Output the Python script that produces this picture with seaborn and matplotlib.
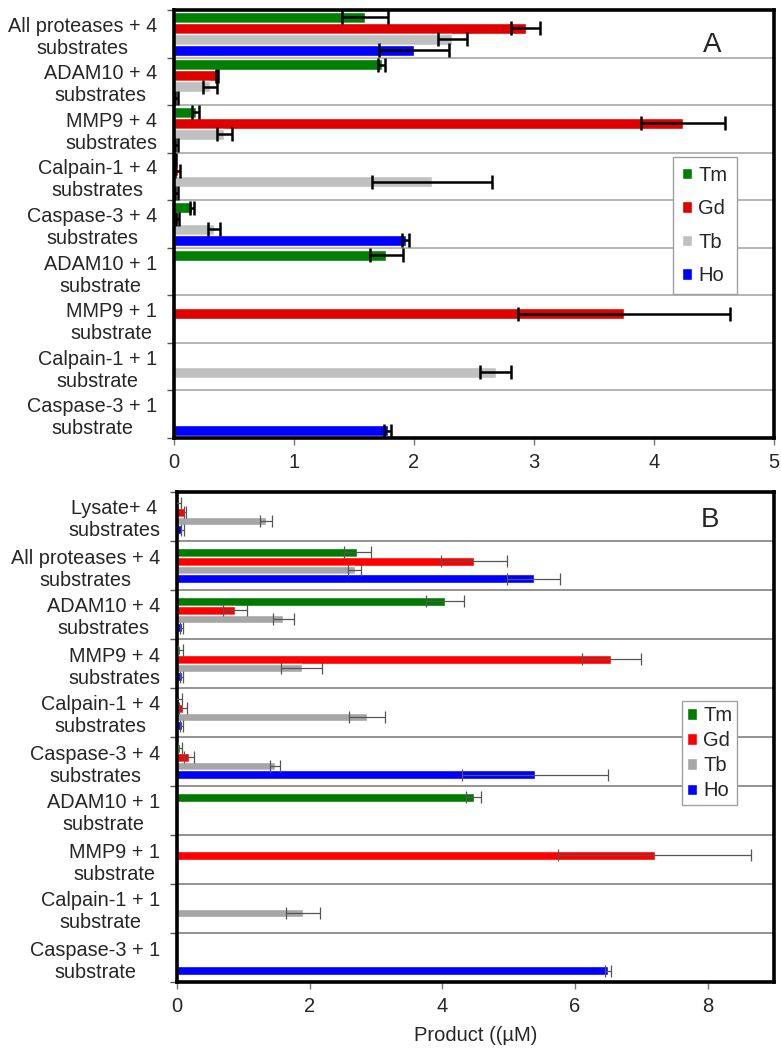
import numpy as np
import pandas as pd
import matplotlib
matplotlib.use("Agg")
import matplotlib.pyplot as plt
import matplotlib.ticker as mticker
import seaborn as sns

#================================ data ================================
nan = np.nan
elements = ["Tm", "Gd", "Tb", "Ho"]

conds_a = ["All proteases + 4\nsubstrates", "ADAM10 + 4\nsubstrates", "MMP9 + 4\nsubstrates",
           "Calpain-1 + 4\nsubstrates", "Caspase-3 + 4\nsubstrates", "ADAM10 + 1\nsubstrate",
           "MMP9 + 1\nsubstrate", "Calpain-1 + 1\nsubstrate", "Caspase-3 + 1\nsubstrate"]
tm_a = [1.59, 1.73, 0.18, 0.01, 0.15, 1.77, 0, 0, 0]
tm_a_err = [0.19, 0.03, 0.03, 0.01, 0.02, 0.14, nan, nan, nan]
gd_a = [2.93, 0.36, 4.24, 0.03, 0.03, 0, 3.75, 0, 0]
gd_a_err = [0.12, 0.01, 0.35, 0.02, 0.01, nan, 0.88, nan, nan]
tb_a = [2.32, 0.30, 0.42, 2.15, 0.33, 0, 0, 2.68, 0]
tb_a_err = [0.12, 0.06, 0.06, 0.50, 0.05, nan, nan, 0.13, nan]
ho_a = [2.00, 0.02, 0.02, 0.02, 1.93, 0, 0, 0, 1.78]
ho_a_err = [0.29, 0.01, 0.01, 0.01, 0.03, nan, nan, nan, 0.03]

conds_b = ["Lysate+ 4\nsubstrates"] + conds_a
tm_b = [0.02, 2.72, 4.04, 0.05, 0.03, 0.04, 4.47, 0, 0, 0]
tm_b_err = [0.04, 0.20, 0.28, 0.04, 0.04, 0.03, 0.12, nan, nan, nan]
gd_b = [0.12, 4.48, 0.87, 6.55, 0.09, 0.18, 0, 7.20, 0, 0]
gd_b_err = [0.02, 0.50, 0.18, 0.45, 0.06, 0.08, nan, 1.45, nan, nan]
tb_b = [1.34, 2.68, 1.60, 1.88, 2.86, 1.48, 0, 0, 1.90, 0]
tb_b_err = [0.09, 0.10, 0.16, 0.31, 0.27, 0.08, nan, nan, 0.26, nan]
ho_b = [0.08, 5.38, 0.07, 0.07, 0.07, 5.40, 0, 0, 0, 6.50]
ho_b_err = [0.02, 0.40, 0.02, 0.02, 0.02, 1.10, nan, nan, nan, 0.05]

colors_a = ["#008000", "#E00000", "#C0C0C0", "#0000FF"]
colors_b = ["#007A00", "#FF0000", "#A6A6A6", "#0000FF"]

#================================ style ================================
sns.set_theme(style="white")
plt.rcParams["font.family"] = ["Liberation Sans", "DejaVu Sans"]


def make_df(conds, vals):
    rows = []
    for el, v in zip(elements, vals):
        for c, x in zip(conds, v):
            rows.append({"cond": c, "elem": el, "value": x})
    return pd.DataFrame(rows)


def draw_panel(ax, conds, vals, errs, colors, width, ecolor, elw, capsize, gridcolor):
    df = make_df(conds, vals)
    sns.barplot(data=df, y="cond", x="value", hue="elem", hue_order=elements,
                order=conds, palette=colors, orient="h", width=width,
                errorbar=None, saturation=1, ax=ax, legend=True)
    # error bars placed on the bars seaborn drew
    for cont, v, e in zip(ax.containers, vals, errs):
        ys = np.array([b.get_y() + b.get_height() / 2 for b in cont])
        v = np.array(v, dtype=float)
        e = np.array(e, dtype=float)
        m = np.isfinite(e)
        ax.errorbar(v[m], ys[m], xerr=e[m], fmt="none", ecolor=ecolor,
                    elinewidth=elw, capsize=capsize, capthick=elw, zorder=5)
    n = len(conds)
    ax.set_ylim(n - 0.5, -0.5)
    ax.yaxis.set_minor_locator(mticker.FixedLocator(np.arange(-0.5, n, 1)))
    ax.grid(False)
    ax.grid(True, which="minor", axis="y", color=gridcolor, lw=1.2)
    ax.tick_params(axis="y", which="major", length=0, pad=12, labelsize=14.3)
    ax.tick_params(axis="y", which="minor", length=5, width=1, color="#555555",
                   direction="out", left=True)
    ax.tick_params(axis="x", which="major", length=5, width=1, color="#777777",
                   direction="out", bottom=True, pad=6, labelsize=14.5)
    for lab in ax.get_yticklabels():
        lab.set_multialignment("center")
    for sp in ax.spines.values():
        sp.set_visible(True)
        sp.set_color("black")
        sp.set_linewidth(2.6)
    ax.set_ylabel("")
    ax.set_xlabel("")


fig = plt.figure(figsize=(7.81, 10.5), dpi=100)

# ---------------- panel A ----------------
ax1 = fig.add_axes([174 / 781, 1 - 438 / 1050, 600 / 781, 428 / 1050])
draw_panel(ax1, conds_a, [tm_a, gd_a, tb_a, ho_a], [tm_a_err, gd_a_err, tb_a_err, ho_a_err],
           colors_a, 0.92, "black", 1.8, 5, "#A8A8A8")
ax1.set_xlim(0, 5)
ax1.set_xticks([0, 1, 2, 3, 4, 5])
h, l = ax1.get_legend_handles_labels()
ax1.legend(h, l, loc="upper left", bbox_to_anchor=(0.832, 0.657), fontsize=14.5,
           handlelength=0.5, handleheight=0.5, handletextpad=0.3, labelspacing=0.72,
           borderpad=0.45, frameon=True, fancybox=False, framealpha=1,
           edgecolor="#A0A0A0", borderaxespad=0)
ax1.text(0.897, 0.918, "A", transform=ax1.transAxes, fontsize=20, ha="center", va="center")

# ---------------- panel B ----------------
ax2 = fig.add_axes([177 / 781, 1 - 982 / 1050, 597 / 781, 490 / 1050])
draw_panel(ax2, conds_b, [tm_b, gd_b, tb_b, ho_b], [tm_b_err, gd_b_err, tb_b_err, ho_b_err],
           colors_b, 0.73, "#555555", 0.9, 4, "#808080")
ax2.set_xlim(0, 9)
ax2.set_xticks([0, 2, 4, 6, 8])
h, l = ax2.get_legend_handles_labels()
ax2.legend(h, l, loc="upper left", bbox_to_anchor=(0.846, 0.573), fontsize=14.5,
           handlelength=0.5, handleheight=0.5, handletextpad=0.3, labelspacing=0.3,
           borderpad=0.25, frameon=True, fancybox=False, framealpha=1,
           edgecolor="#A0A0A0", borderaxespad=0)
ax2.text(0.893, 0.943, "B", transform=ax2.transAxes, fontsize=20, ha="center", va="center")
ax2.set_xlabel("Product ((\u00b5M)", fontsize=14.5, labelpad=7)

fig.savefig("out.png", dpi=100)
